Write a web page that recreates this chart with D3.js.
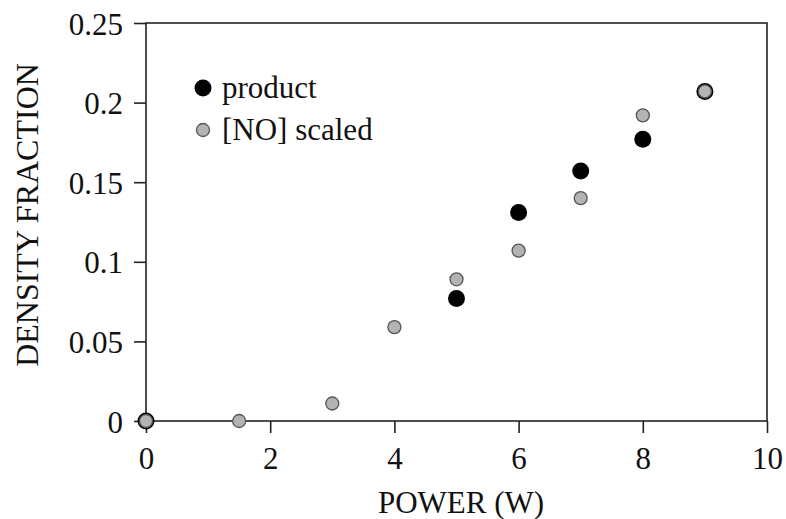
<!DOCTYPE html>
<html>
<head>
<meta charset="utf-8">
<script src="https://cdn.jsdelivr.net/npm/d3@7"></script>
<style>
  body { margin: 0; background: #fff; }
  svg text { font-family: "Liberation Serif", "DejaVu Serif", serif; fill: #111; }
</style>
</head>
<body>
<div id="chart"></div>
<script>
// Datos
var powerProduct = [0, 5, 6, 7, 8, 9];
var fracProduct = [0, 0.077, 0.131, 0.157, 0.177, 0.207];
var powerNO = [0, 1.5, 3, 4, 5, 6, 7, 8, 9];
var fracNO = [0, 0, 0.011, 0.059, 0.089, 0.107, 0.140, 0.192, 0.207];
var xTicks = [0, 2, 4, 6, 8, 10];
var yTicks = [0, 0.05, 0.1, 0.15, 0.2, 0.25];
var legendLabels = ["product", "[NO] scaled"];

var width = 786;
var height = 519;
var margin = { top: 23, right: 19, bottom: 98, left: 146 };

var svg = d3.select("#chart")
    .append("svg")
    .attr("width", width)
    .attr("height", height);

var xScale = d3.scaleLinear()
    .domain([0, 10])
    .range([margin.left, width - margin.right]);

var yScale = d3.scaleLinear()
    .domain([0, 0.25])
    .range([height - margin.bottom, margin.top]);

// Marco
svg.append("rect")
    .attr("x", xScale(0))
    .attr("y", yScale(0.25))
    .attr("width", xScale(10) - xScale(0))
    .attr("height", yScale(0) - yScale(0.25))
    .attr("fill", "none")
    .attr("stroke", "#222")
    .attr("stroke-width", 1.6);

// Ejes
var xAxis = svg.append("g")
    .attr("transform", "translate(0," + yScale(0) + ")")
    .call(d3.axisBottom(xScale).tickValues(xTicks).tickSize(12).tickPadding(14)
        .tickFormat(d3.format("d")));

var yAxis = svg.append("g")
    .attr("transform", "translate(" + xScale(0) + ",0)")
    .call(d3.axisLeft(yScale).tickValues(yTicks).tickSize(12).tickPadding(11)
        .tickFormat(function (d) { return d === 0 ? "0" : String(+d.toFixed(2)); }));

[xAxis, yAxis].forEach(function (g) {
    g.select(".domain").remove();
    g.selectAll(".tick line").attr("stroke", "#222").attr("stroke-width", 1.6);
    g.selectAll(".tick text").style("font-size", "31px").attr("fill", "#111");
});
yAxis.selectAll(".tick text").attr("dy", "0.36em");

// Puntos: product (negro) debajo, [NO] (gris) encima
var productData = powerProduct.map(function (p, i) { return { x: p, y: fracProduct[i] }; });
var noData = powerNO.map(function (p, i) { return { x: p, y: fracNO[i] }; });

svg.append("g").selectAll("circle")
    .data(productData)
    .enter()
    .append("circle")
    .attr("cx", function (d) { return xScale(d.x); })
    .attr("cy", function (d) { return yScale(d.y); })
    .attr("r", 8.5)
    .attr("fill", "#000");

svg.append("g").selectAll("circle")
    .data(noData)
    .enter()
    .append("circle")
    .attr("cx", function (d) { return xScale(d.x); })
    .attr("cy", function (d) { return yScale(d.y); })
    .attr("r", 6.5)
    .attr("fill", "#b3b3b3")
    .attr("stroke", "#555")
    .attr("stroke-width", 1.3);

// Leyenda
var legend = svg.append("g").attr("transform", "translate(203,88)");
legend.append("circle").attr("cx", 0).attr("cy", 0).attr("r", 8.5).attr("fill", "#000");
legend.append("circle").attr("cx", 0).attr("cy", 42).attr("r", 6.5)
    .attr("fill", "#b3b3b3").attr("stroke", "#555").attr("stroke-width", 1.3);
legend.selectAll("text")
    .data(legendLabels)
    .enter()
    .append("text")
    .attr("x", 19)
    .attr("y", function (d, i) { return 10 + i * 42; })
    .style("font-size", "31px")
    .text(function (d) { return d; });

// Etiquetas de los ejes
svg.append("text")
    .attr("x", 461)
    .attr("y", 513)
    .style("text-anchor", "middle")
    .style("font-size", "31px")
    .text("POWER (W)");

svg.append("text")
    .attr("transform", "rotate(-90)")
    .attr("x", -215)
    .attr("y", 38)
    .style("text-anchor", "middle")
    .style("font-size", "32px")
    .text("DENSITY FRACTION");
</script>
</body>
</html>
